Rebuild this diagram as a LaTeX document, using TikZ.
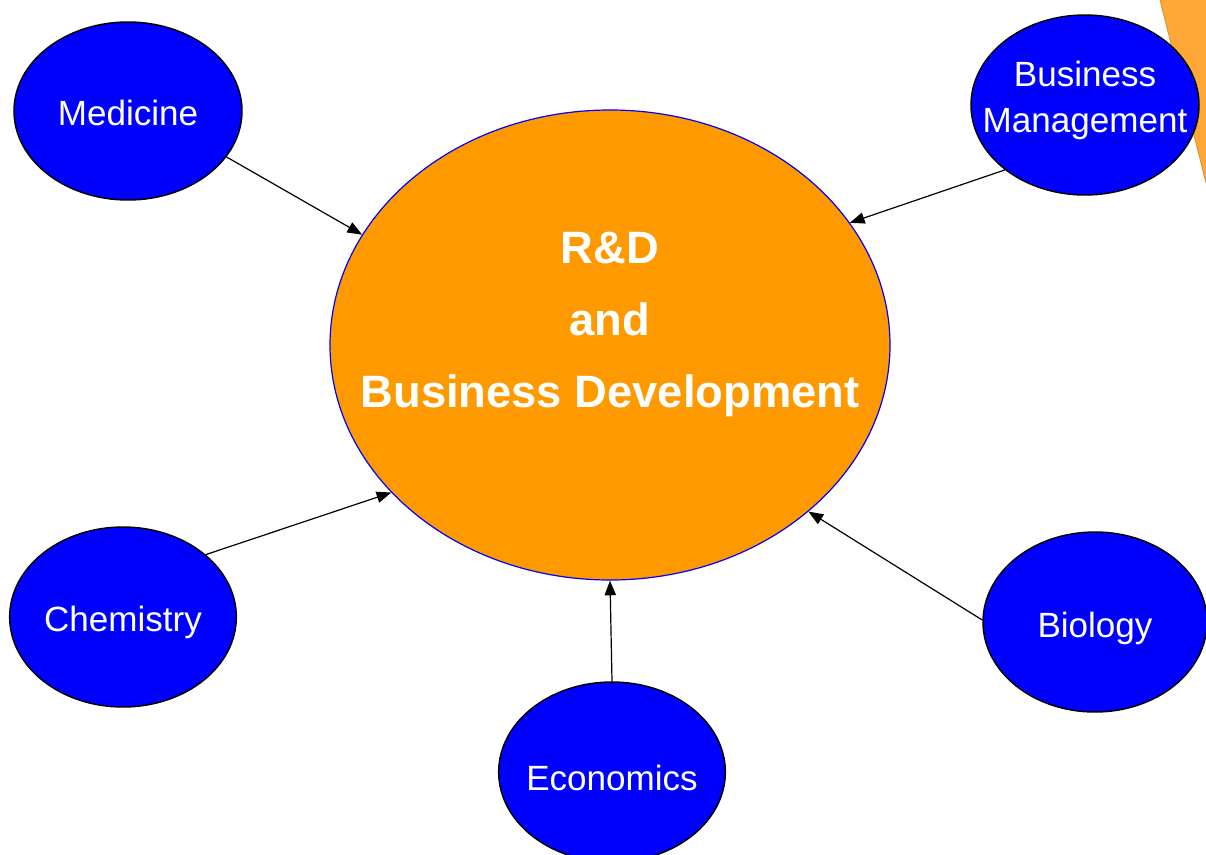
\documentclass[tikz,border=0pt]{standalone}
\usepackage{fontspec}
\setmainfont{Liberation Sans}
\usetikzlibrary{shapes.geometric,arrows.meta}
\definecolor{nodeblue}{RGB}{0,0,255}
\definecolor{mainorange}{RGB}{255,153,0}
\definecolor{cornerorange}{RGB}{255,168,56}
\tikzset{
  disc/.style={ellipse, draw=black, line width=1.1pt, fill=nodeblue, inner sep=0pt},
  disctext/.style={text=white, inner sep=0pt, align=center, font=\fontsize{26.3}{34.5}\selectfont},
  mainnode/.style={ellipse, draw=nodeblue, line width=0.9pt, fill=mainorange, inner sep=0pt},
  maintext/.style={text=white, align=center, font=\fontsize{34}{54}\selectfont\bfseries},
  link/.style={line width=0.9pt, -{Triangle[length=11pt,width=8.5pt]}}
}
\begin{document}
\begin{tikzpicture}[x=0.75pt,y=-0.75pt]
\useasboundingbox (0,0) rectangle (1206,854);
% corner decoration
\fill[cornerorange] (1160,0) -- (1206,0) -- (1206,183) -- cycle;
\draw[cornerorange!85!black, line width=0.6pt] (1160,0) -- (1206,183);
% main node
\node[mainnode, minimum width=420pt, minimum height=352.5pt] (main) at (610,345) {};
\node[maintext] (mtext) at (610,325) {R\&D\\and\\Business Development};
% outer nodes
\node[disc, minimum width=171pt, minimum height=133.5pt] (med) at (128,111) {};
\node[disctext] (medt) at (128,113) {Medicine};
\node[disc, minimum width=171pt, minimum height=135pt] (bm) at (1085,105) {};
\node[disctext] (bmt) at (1085,100) {Business\\Management};
\node[disc, minimum width=170pt, minimum height=135pt] (chem) at (123,617) {};
\node[disctext] (chemt) at (123,622) {Chemistry};
\node[disc, minimum width=168pt, minimum height=135pt] (bio) at (1095,622) {};
\node[disctext] (biot) at (1095,628) {Biology};
\node[disc, minimum width=170pt, minimum height=135pt] (eco) at (612,772) {};
\node[disctext] (ecot) at (612,778) {Economics};
% connectors
\draw[link] (med.-25.6) -- (main.156.9);
\draw[link] (bm.219.4) -- (main.27.7);
\draw[link] (chem.37) -- (main.214.7);
\draw[link] (bio.179) -- (main.-40);
\draw[link] (eco.90) -- (main.-90);
\end{tikzpicture}
\end{document}
